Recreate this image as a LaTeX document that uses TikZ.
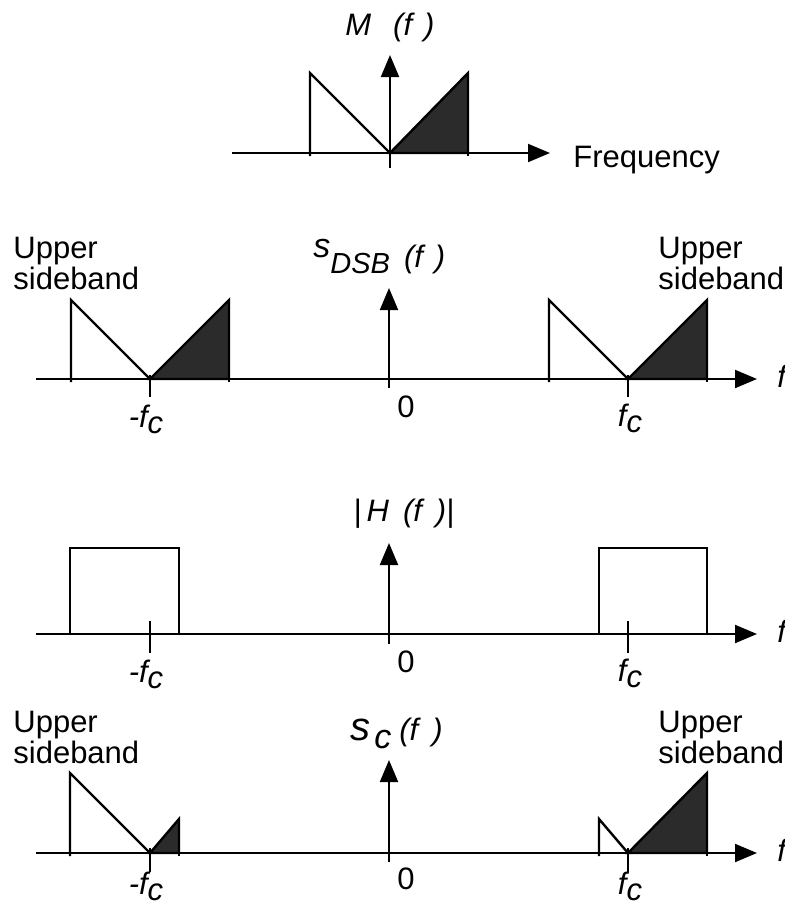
\documentclass[tikz,border=0pt]{standalone}
\usepackage{fontspec}
\setmainfont{Liberation Sans}
\usepackage{tikz}
\usetikzlibrary{arrows.meta,positioning}

\newcommand\figfont{\fontsize{15.5}{15.5}\selectfont}
\newcommand\lowc[1]{\raisebox{-3pt}{#1}}

\begin{document}
\begin{tikzpicture}[
   x=0.5pt,y=-0.5pt,
   axis/.style={line width=1pt,-{Triangle[length=11pt,width=9pt]}},
   edge/.style={line width=1.2pt,line join=miter},
   dark/.style={edge,fill=black!83},
   tick/.style={line width=1pt},
   lbl/.style={font=\figfont,inner sep=0pt},
   ilbl/.style={font=\figfont\itshape,inner sep=0pt}
  ]
  \useasboundingbox (0,0) rectangle (785,906);

  % message spectrum M(f)
  \coordinate (o1) at (390,153);
  \draw[axis] (232,153) -- (550,153);
  \draw[axis] (390,168) -- (390,55);
  \draw[edge] (310,156) -- (310,73) -- (o1);
  \draw[dark] (o1) -- (468,73) -- (468,153) -- cycle;
  \draw[tick] (468,153) -- (468,156);
  \node[ilbl,anchor=base west] (mlab) at (345,35) {M\hspace{11pt}(f\hspace{6pt})};
  \node[lbl,anchor=base west] (freq) at (573,167) {Frequency};

  % DSB spectrum
  \coordinate (o2) at (389,379);
  \draw[axis] (36,379) -- (757,379);
  \draw[axis] (389,388) -- (389,288);
  \foreach \c in {150,628} {
    \draw[edge] (\c-79,382) -- (\c-79,300) -- (\c,379);
    \draw[dark] (\c,379) -- (\c+79,300) -- (\c+79,379) -- cycle;
    \draw[tick] (\c+79,379) -- (\c+79,382);
    \draw[tick] (\c,375) -- (\c,397);
  }
  \node[ilbl,anchor=base west] (slab) at (313,267)
       {{\fontsize{17}{17}\selectfont\raisebox{5pt}{s}}{\fontsize{14.5}{14.5}\selectfont\raisebox{-3pt}{DSB}}\hspace{7pt}(f\hspace{6pt})};
  \node[lbl,align=left,anchor=north west] (usb1) at (13,237) {Upper\\sideband};
  \node[lbl,align=left,anchor=north west] (usb2) at (658,237) {Upper\\sideband};
  \node[ilbl,anchor=base] (mfc2) at (146,427) {-f\lowc{c}};
  \node[lbl,anchor=base] (zero2) at (406,417) {0};
  \node[ilbl,anchor=base] (fc2) at (630,426) {f\lowc{c}};
  \node[ilbl,anchor=base west] (f2) at (777,387) {f};

  % bandpass filter |H(f)|
  \coordinate (o3) at (389,634);
  \draw[axis] (36,634) -- (757,634);
  \draw[axis] (389,644) -- (389,543);
  \draw[edge] (70,634) |- (179,548) -- (179,634);
  \draw[edge] (599,634) |- (707,548) -- (707,634);
  \foreach \c in {150,628}
    \draw[tick] (\c,621) -- (\c,653);
  \node[ilbl,anchor=base west] (hlab) at (353,521)
       {|\,H\hspace{7pt}(f\hspace{7pt})|};
  \node[ilbl,anchor=base] (mfc3) at (146,682) {-f\lowc{c}};
  \node[lbl,anchor=base] (zero3) at (406,672) {0};
  \node[ilbl,anchor=base] (fc3) at (630,681) {f\lowc{c}};
  \node[ilbl,anchor=base west] (f3) at (777,642) {f};

  % filtered signal s_c(f)
  \coordinate (o4) at (389,853);
  \draw[axis] (36,853) -- (757,853);
  \draw[axis] (389,862) -- (389,760);
  \draw[edge] (70,856) -- (70,773) -- (150,853);
  \draw[dark] (150,853) -- (179,819) -- (179,853) -- cycle;
  \draw[edge] (599,856) -- (599,819) -- (628,853);
  \draw[dark] (628,853) -- (707,773) -- (707,853) -- cycle;
  \draw[tick] (179,853) -- (179,856);
  \draw[tick] (707,853) -- (707,856);
  \foreach \c in {150,628}
    \draw[tick] (\c,848) -- (\c,872);
  \node[ilbl,anchor=base west] (sclab) at (350,740)
       {{\fontsize{20}{20}\selectfont s}\hspace{2pt}{\fontsize{17}{17}\selectfont\raisebox{-4pt}{c}}\hspace{4pt}(f\hspace{7pt})};
  \node[lbl,align=left,anchor=north west] (usb3) at (13,711) {Upper\\sideband};
  \node[lbl,align=left,anchor=north west] (usb4) at (658,711) {Upper\\sideband};
  \node[ilbl,anchor=base] (mfc4) at (146,894) {-f\lowc{c}};
  \node[lbl,anchor=base] (zero4) at (406,889) {0};
  \node[ilbl,anchor=base] (fc4) at (630,894) {f\lowc{c}};
  \node[ilbl,anchor=base west] (f4) at (777,861) {f};
\end{tikzpicture}
\end{document}
